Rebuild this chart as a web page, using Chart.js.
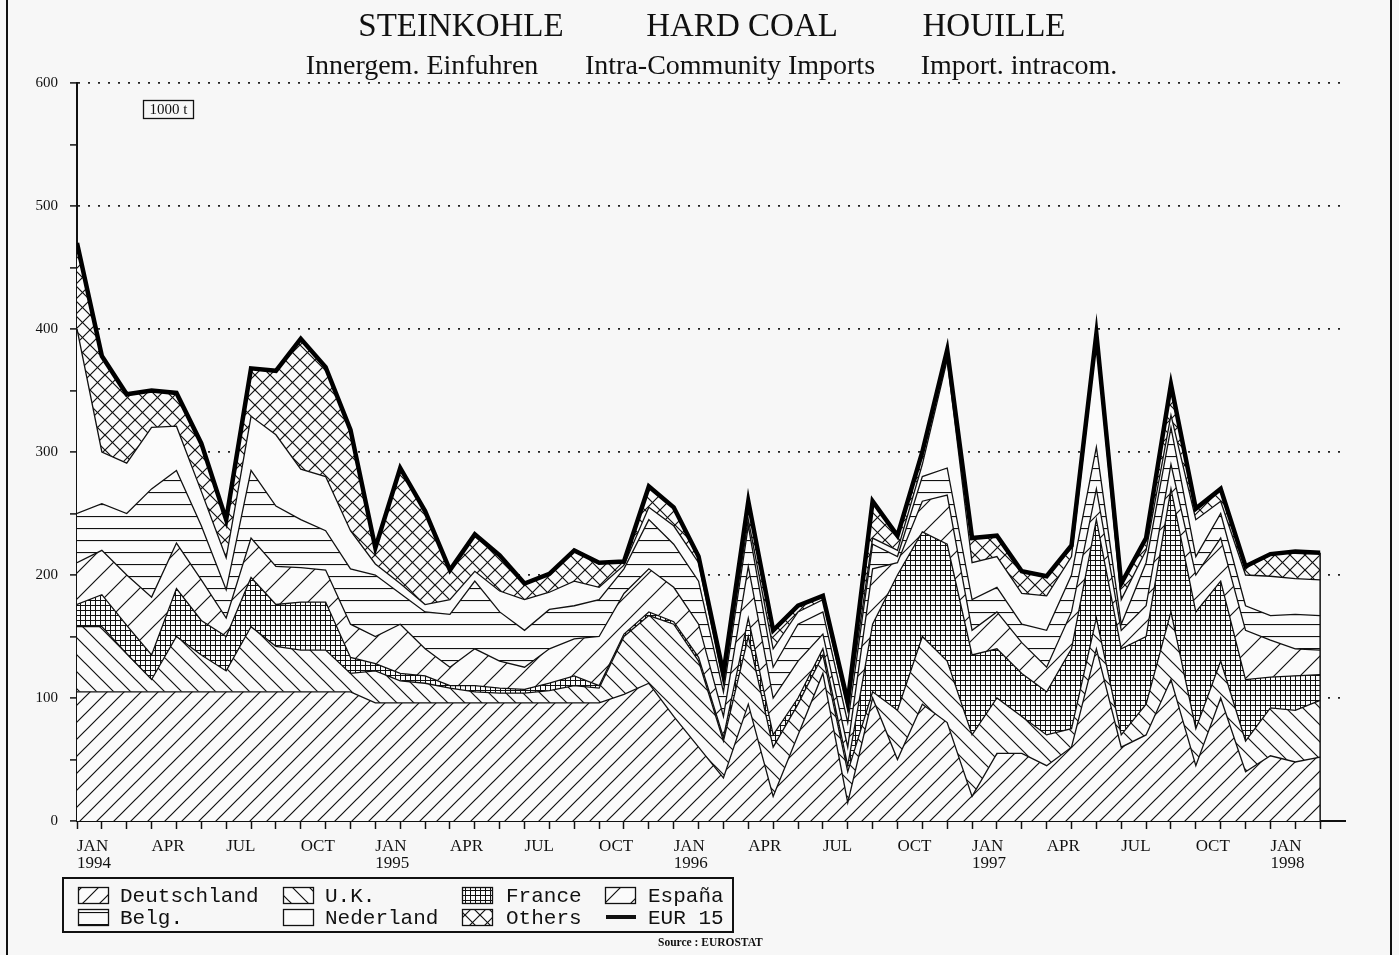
<!DOCTYPE html>
<html>
<head>
<meta charset="utf-8">
<script src="https://cdn.jsdelivr.net/npm/chart.js@4.4.0/dist/chart.umd.min.js"></script>
<style>
  html, body { margin: 0; padding: 0; background: #f7f7f7; }
  #wrap { position: relative; width: 1399px; height: 955px; overflow: hidden; }
  #c { position: absolute; left: 0; top: 0; }
  .t { position: absolute; font-family: 'Liberation Serif', 'Times New Roman', serif; color: #111;
       white-space: nowrap; transform: translateX(-50%); line-height: 1; }
  .h1 { font-size: 33px; top: 9px; }
  .h2 { font-size: 28px; top: 51px; }
</style>
</head>
<body>
<div id="wrap">
  <canvas id="c" width="1399" height="955"></canvas>
  <div class="t h1" style="left:461px">STEINKOHLE</div>
  <div class="t h1" style="left:742px">HARD COAL</div>
  <div class="t h1" style="left:994px">HOUILLE</div>
  <div class="t h2" style="left:422px">Innergem. Einfuhren</div>
  <div class="t h2" style="left:730px">Intra-Community Imports</div>
  <div class="t h2" style="left:1019px">Import. intracom.</div>
</div>
<script>
// monthly data, JAN 1994 .. MAR 1998 (1000 t)
const periods = ['1994-01','1994-02','1994-03','1994-04','1994-05','1994-06','1994-07','1994-08','1994-09','1994-10','1994-11','1994-12',
  '1995-01','1995-02','1995-03','1995-04','1995-05','1995-06','1995-07','1995-08','1995-09','1995-10','1995-11','1995-12',
  '1996-01','1996-02','1996-03','1996-04','1996-05','1996-06','1996-07','1996-08','1996-09','1996-10','1996-11','1996-12',
  '1997-01','1997-02','1997-03','1997-04','1997-05','1997-06','1997-07','1997-08','1997-09','1997-10','1997-11','1997-12',
  '1998-01','1998-02','1998-03'];

const deutschland = [105,105,105,105,105,105,105,105,105,105,105,105, 96,96,96,96,96,96,96,96,96,96,103,112,
  85,60,35,95,20,70,120,15,100,50,95,80, 20,55,55,45,60,140,60,70,115,45,100,40, 53,48,52];
const uk = [53,53,31,10,45,30,17,53,37,34,34,15, 26,18,16,12,9,8,8,10,14,12,47,55,
  75,70,30,55,40,25,15,25,5,40,55,50, 50,45,30,25,15,25,10,25,55,30,30,25, 39,42,46];
const france = [18,26,23,20,39,28,28,40,34,39,39,13, 6,6,6,2,5,4,3,6,8,2,2,3,
  2,3,3,15,10,5,5,5,55,110,85,95, 65,40,35,35,65,80,70,55,100,95,65,50, 25,28,21];
const espana = [34,36,41,47,37,33,15,32,31,28,26,27, 22,40,22,15,30,22,18,28,30,40,33,35,
  28,27,17,42,30,30,12,15,45,10,25,40, 20,30,25,20,30,25,15,25,20,30,35,40, 30,22,20];
const belg = [40,38,50,88,59,44,23,55,49,39,32,45, 50,25,30,43,55,40,30,32,27,30,20,40,
  35,35,20,33,25,30,18,20,20,5,20,22, 25,20,15,30,30,34,5,35,30,15,20,20, 20,28,28];
const nederland = [150,42,41,50,36,28,26,44,58,41,44,31, 9,8,6,12,8,17,25,14,20,10,3,10,
  15,15,7,5,15,10,10,10,5,5,10,88, 30,25,25,28,15,87,20,10,10,30,10,25, 32,29,29];
const others = [70,78,56,30,27,39,31,39,52,106,89,82, 13,94,76,24,30,29,13,15,25,20,3,17,
  15,5,8,15,15,5,3,7,30,12,10,8, 20,17,18,16,9,5,13,10,25,9,10,7, 18,22,22];

const monthTicks = ['JAN', 'APR', 'JUL', 'OCT'];
const yearTicks = ['1994', '1995', '1996', '1997', '1998'];
const yTicks = [0, 100, 200, 300, 400, 500, 600];

const eur15 = periods.map((p, i) => deutschland[i] + uk[i] + france[i] + espana[i] + belg[i] + nederland[i] + others[i]);

// hatch patterns
const paper = '#fbfbfb';
const ink = '#111';
function makePattern(size, draw) {
  const c = document.createElement('canvas');
  c.width = size; c.height = size;
  const g = c.getContext('2d');
  g.fillStyle = paper;
  g.fillRect(0, 0, size, size);
  g.strokeStyle = ink;
  g.lineWidth = 1.2;
  draw(g, size);
  return g.createPattern(c, 'repeat');
}
function fwd(g, s) { // "/"
  g.beginPath();
  g.moveTo(-1, s + 1); g.lineTo(s + 1, -1);
  g.moveTo(-2, 2); g.lineTo(2, -2);
  g.moveTo(s - 2, s + 2); g.lineTo(s + 2, s - 2);
  g.stroke();
}
function back(g, s) { // "\"
  g.beginPath();
  g.moveTo(-1, -1); g.lineTo(s + 1, s + 1);
  g.moveTo(s - 2, -2); g.lineTo(s + 2, 2);
  g.moveTo(-2, s - 2); g.lineTo(2, s + 2);
  g.stroke();
}
const patDeutschland = makePattern(17, fwd);
const patUK = makePattern(17, back);
const patFrance = makePattern(5, (g, s) => {
  g.lineWidth = 1;
  g.beginPath();
  g.moveTo(0.5, 0); g.lineTo(0.5, s);
  g.moveTo(0, 0.5); g.lineTo(s, 0.5);
  g.stroke();
});
const patEspana = makePattern(26, fwd);
const patBelg = makePattern(12, (g, s) => {
  g.beginPath(); g.moveTo(0, 0.5); g.lineTo(s, 0.5); g.stroke();
});
const patOthers = makePattern(15, (g, s) => { fwd(g, s); back(g, s); });

function area(label, values, pattern, first) {
  return {
    label: label,
    data: values.map((v, i) => ({ x: i, y: v })),
    backgroundColor: pattern,
    borderColor: ink,
    borderWidth: 1.3,
    pointRadius: 0,
    tension: 0,
    fill: first ? 'origin' : '-1',
    stack: 'countries'
  };
}

const datasets = [
  area('Deutschland', deutschland, patDeutschland, true),
  area('U.K.', uk, patUK),
  area('France', france, patFrance),
  area('España', espana, patEspana),
  area('Belg.', belg, patBelg),
  area('Nederland', nederland, paper),
  area('Others', others, patOthers),
  {
    label: 'EUR 15',
    data: eur15.map((v, i) => ({ x: i, y: v })),
    borderColor: '#000',
    borderWidth: 4.5,
    pointRadius: 0,
    fill: false,
    stack: 'total',
    order: -1
  }
];

const serif = "'Liberation Serif', 'Times New Roman', serif";

const decorPlugin = {
  id: 'decor',
  afterDatasetsDraw(chart) {
    const ctx = chart.ctx;
    const x = chart.scales.x, y = chart.scales.y;
    const last = periods.length - 1;
    ctx.save();
    ctx.strokeStyle = ink;
    ctx.lineWidth = 1.5;
    ctx.beginPath();
    ctx.moveTo(x.getPixelForValue(last), y.getPixelForValue(0));
    ctx.lineTo(x.getPixelForValue(last), y.getPixelForValue(eur15[last]));
    ctx.stroke();
    ctx.restore();
  },
  afterDraw(chart) {
    const ctx = chart.ctx;
    ctx.save();
    // unit box
    ctx.strokeStyle = ink;
    ctx.lineWidth = 1.3;
    ctx.strokeRect(143.5, 100.5, 50, 18);
    ctx.fillStyle = ink;
    ctx.font = '15px ' + serif;
    ctx.textAlign = 'center';
    ctx.textBaseline = 'middle';
    ctx.fillText('1000 t', 168.5, 110);

    // legend
    ctx.lineWidth = 2;
    ctx.strokeRect(63, 878, 670, 54);
    const boxX = [78, 283, 462, 605];
    const textX = [120, 325, 506, 648];
    const rowY = [895, 917];
    const ds = chart.data.datasets;
    ctx.font = "21px 'Liberation Mono', 'Courier New', monospace";
    ctx.textAlign = 'left';
    ctx.textBaseline = 'middle';
    ds.forEach((d, n) => {
      const col = n % 4, row = Math.floor(n / 4);
      const cy = rowY[row];
      if (d.fill === false) {
        ctx.lineWidth = 4;
        ctx.beginPath();
        ctx.moveTo(boxX[col] + 1, cy);
        ctx.lineTo(boxX[col] + 31, cy);
        ctx.stroke();
      } else {
        ctx.fillStyle = d.backgroundColor;
        ctx.fillRect(boxX[col], cy - 8, 30, 16);
        ctx.lineWidth = 1.3;
        ctx.strokeRect(boxX[col] + 0.5, cy - 7.5, 30, 16);
      }
      ctx.fillStyle = ink;
      ctx.fillText(d.label, textX[col], cy + 1);
    });

    // source
    ctx.font = 'bold 11.5px ' + serif;
    ctx.fillText('Source : EUROSTAT', 658, 943);

    // page frame
    ctx.lineWidth = 2;
    ctx.beginPath();
    ctx.moveTo(7, 0); ctx.lineTo(7, 955);
    ctx.moveTo(1391, 0); ctx.lineTo(1391, 955);
    ctx.stroke();
    ctx.restore();
  }
};

new Chart(document.getElementById('c'), {
  type: 'line',
  data: { datasets: datasets },
  plugins: [decorPlugin],
  options: {
    responsive: false,
    animation: false,
    layout: { padding: { left: 0, right: 54, top: 83, bottom: 0 } },
    plugins: {
      legend: { display: false },
      title: { display: false },
      tooltip: { enabled: false }
    },
    scales: {
      x: {
        type: 'linear',
        min: 0,
        max: periods.length,
        afterFit: s => { s.height = 134; },
        ticks: {
          stepSize: 1,
          autoSkip: false,
          maxRotation: 0,
          minRotation: 0,
          align: 'start',
          padding: 9,
          color: ink,
          font: { family: serif, size: 17, lineHeight: 1.0 },
          callback: v => {
            if (v % 3 !== 0 || v >= periods.length - 2) return '';
            const m = monthTicks[(v / 3) % 4];
            return v % 12 === 0 ? [m, yearTicks[v / 12]] : m;
          }
        },
        grid: {
          drawOnChartArea: false,
          drawTicks: true,
          tickLength: 8,
          tickWidth: 1.5,
          tickColor: c => (c.tick && c.tick.value >= periods.length) ? 'rgba(0,0,0,0)' : ink
        },
        border: { display: true, color: ink, width: 2 }
      },
      y: {
        stacked: true,
        min: 0,
        max: 600,
        afterFit: s => { s.width = 77; },
        ticks: {
          stepSize: 50,
          padding: 12,
          color: ink,
          font: { family: serif, size: 15 },
          callback: v => yTicks.includes(v) ? String(v) : ''
        },
        grid: {
          drawOnChartArea: true,
          drawTicks: true,
          tickLength: 7,
          tickWidth: 1.5,
          tickColor: ink,
          lineWidth: 1.8,
          color: c => (c.tick && c.tick.value > 0 && c.tick.value % 100 === 0) ? '#222' : 'rgba(0,0,0,0)'
        },
        border: { display: true, color: ink, width: 2, dash: [2, 8] }
      }
    }
  }
});
</script>
</body>
</html>
